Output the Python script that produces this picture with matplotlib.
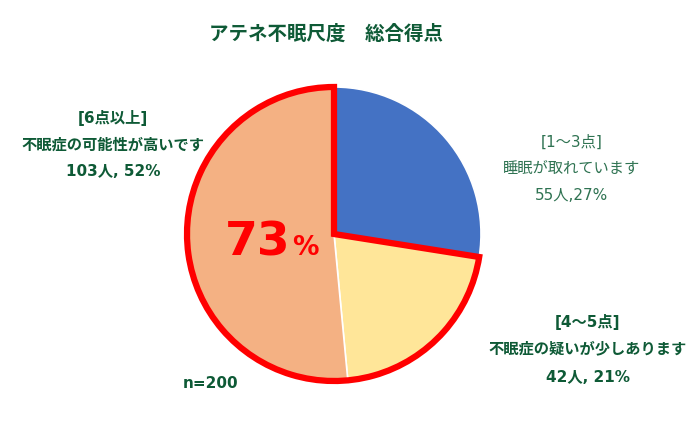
import matplotlib
matplotlib.use('Agg')
import matplotlib.pyplot as plt
from matplotlib.patches import Wedge

# DejaVu first for the wide latin digits, CJK glyphs fall through to Noto
plt.rcParams['font.family'] = ['DejaVu Sans', 'Noto Sans CJK JP']

# data
groups = ['[1～3点]', '[4～5点]', '[6点以上]']
counts = [55, 42, 103]
pcts = [27, 21, 52]
descs = ['睡眠が取れています', '不眠症の疑いが少しあります', '不眠症の可能性が高いです']
colors = ['#4472C4', '#FFE699', '#F4B183']
total = sum(counts)
highlight_pct = 73

W, H = 690, 432
fig = plt.figure(figsize=(W / 100, H / 100), dpi=100)

# pie axes, placed in pixels
cx, cy, r = 334, 234, 147
ax = fig.add_axes([(cx - r) / W, (H - cy - r) / H, 2 * r / W, 2 * r / H])
ax.pie(counts, colors=colors, startangle=90, counterclock=False,
       wedgeprops=dict(edgecolor='white', linewidth=1.2))
ax.set_xlim(-1, 1)
ax.set_ylim(-1, 1)

# red outline round the 4点以上 part
end_ang = 90 - 360 * counts[0] / total
outline = Wedge((0, 0), 1, 90, 360 + end_ang, fill=False, edgecolor='#FF0000',
                linewidth=4.5, joinstyle='miter', clip_on=False, zorder=5)
ax.add_patch(outline)

dark = '#0E5A36'
light = '#2F7352'

def px(x, y):
    return x / W, 1 - y / H

fig.text(*px(326, 34), 'アテネ不眠尺度　総合得点', ha='center', va='center',
         fontsize=14, fontweight='bold', color=dark)

# labels
fig.text(*px(572, 142), groups[0], ha='center', va='center', fontsize=11, color=light)
fig.text(*px(572, 168), descs[0], ha='center', va='center', fontsize=11, color=light)
fig.text(*px(572, 196), f'{counts[0]}人,{pcts[0]}%', ha='center', va='center',
         fontsize=11, color=light)

fig.text(*px(588, 322), groups[1], ha='center', va='center', fontsize=11,
         fontweight='bold', color=dark)
fig.text(*px(588, 349), descs[1], ha='center', va='center', fontsize=11,
         fontweight='bold', color=dark)
fig.text(*px(588, 377), f'{counts[1]}人, {pcts[1]}%', ha='center', va='center',
         fontsize=11, fontweight='bold', color=dark)

fig.text(*px(113, 118), groups[2], ha='center', va='center', fontsize=11,
         fontweight='bold', color=dark)
fig.text(*px(113, 145), descs[2], ha='center', va='center', fontsize=11,
         fontweight='bold', color=dark)
fig.text(*px(113, 172), f'{counts[2]}人, {pcts[2]}%', ha='center', va='center',
         fontsize=11, fontweight='bold', color=dark)

fig.text(*px(183, 384), f'n={total}', ha='left', va='center', fontsize=11,
         fontweight='bold', color=dark)

# big 73%
fig.text(*px(291, 255), str(highlight_pct), ha='right', va='baseline', fontsize=34,
         fontweight='bold', color='#FF0000')
fig.text(*px(292, 255), '%', ha='left', va='baseline', fontsize=19,
         fontweight='bold', color='#FF0000')

fig.savefig('out.png', dpi=100)
